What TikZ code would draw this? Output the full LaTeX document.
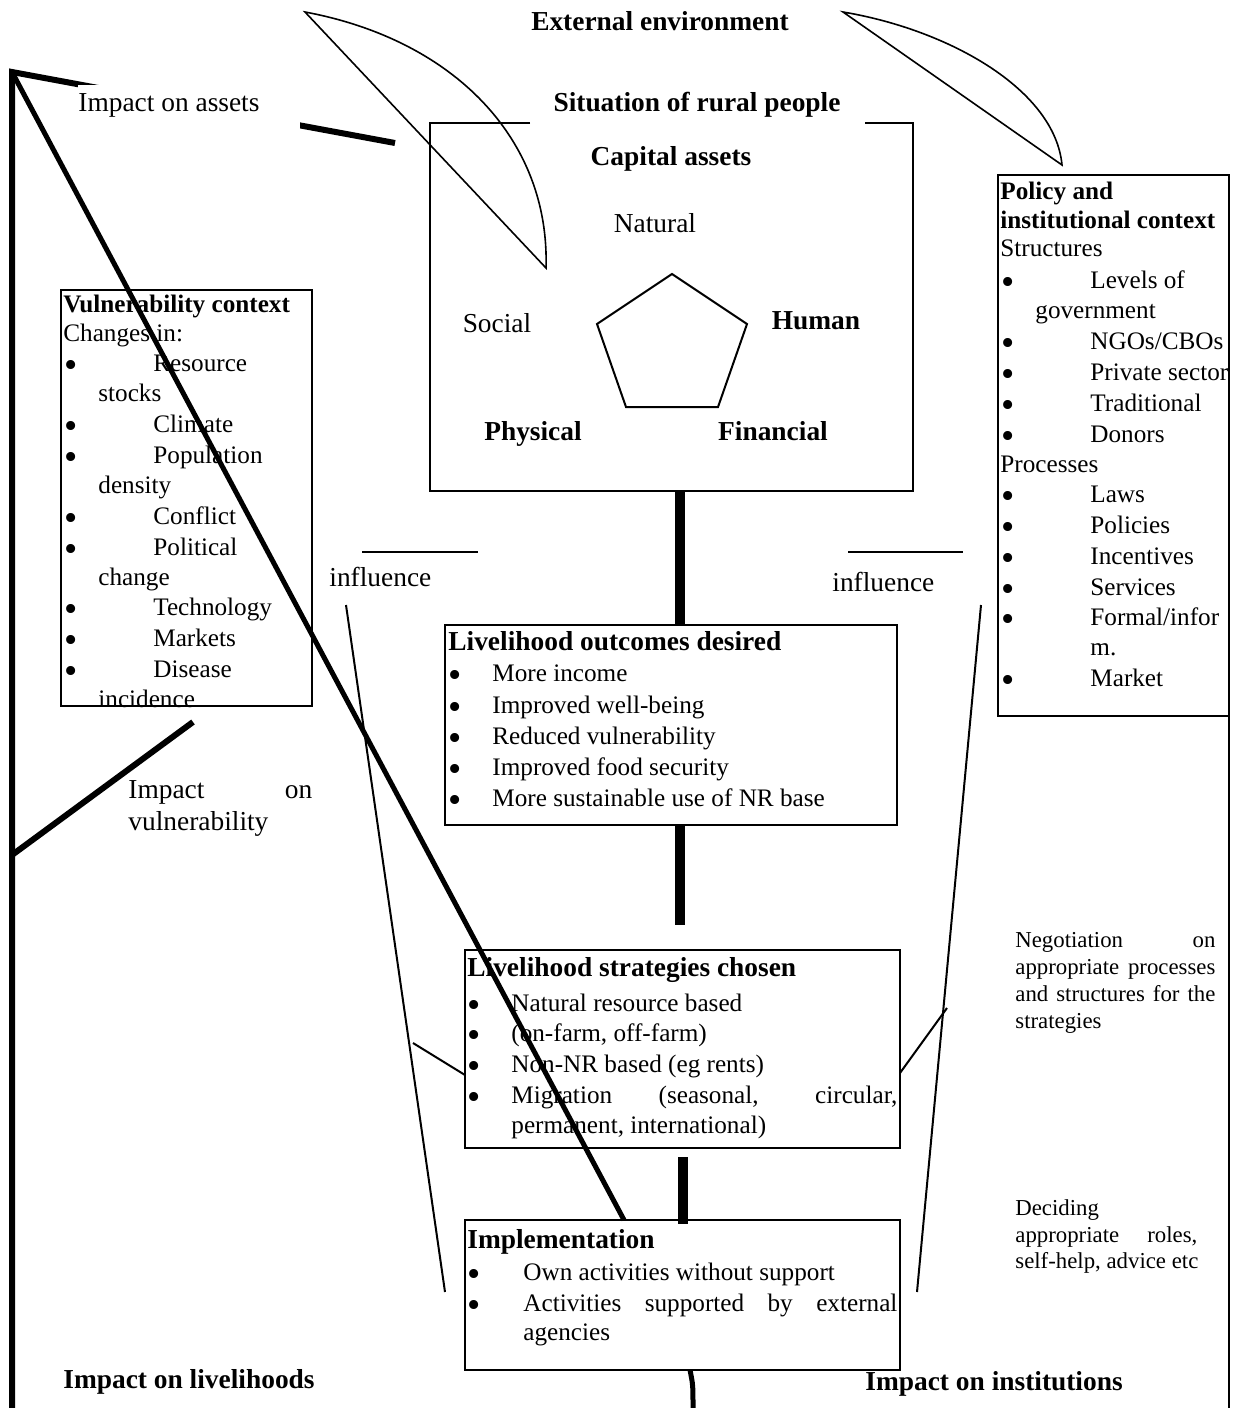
\documentclass[tikz,border=0pt]{standalone}
\usepackage{fontspec}
\setmainfont{Liberation Serif}
\newcommand\bul{\raisebox{-0.24em}{\scalebox{1.5}{\textbullet}}}
\begin{document}
\begin{tikzpicture}[x=0.5pt,y=-0.5pt,
  txt/.style={inner sep=0pt, anchor=base west, font=\fontsize{12.6}{15}\selectfont},
  btxt/.style={txt, font=\fontsize{12.6}{15}\selectfont\bfseries},
  ltxt/.style={txt, font=\fontsize{13.7}{16}\selectfont},
  lbtxt/.style={txt, font=\fontsize{13.7}{16}\selectfont\bfseries},
  ctxt/.style={ltxt, anchor=base},
  cbtxt/.style={lbtxt, anchor=base},
  stxt/.style={txt, font=\fontsize{11.4}{13.5}\selectfont},
  bultxt/.style={txt, text height=0pt, text depth=0pt},
  boxframe/.style={draw, line width=1pt, anchor=north west, inner sep=0pt, outer sep=0pt},
  thinline/.style={line width=1pt},
  cres/.style={line width=0.8pt},
  heavy/.style={line width=3pt},
  diag/.style={line width=2.5pt},
  conn/.style={line width=5pt},
]
\useasboundingbox (0,0) rectangle (1233,1408);
\fill[white] (0,0) rectangle (1233,1408);

% ---------- boxes ----------
\node[boxframe, minimum width=125.5pt, minimum height=208pt] (vul) at (61,290) {};
\node[boxframe, minimum width=115.5pt, minimum height=270.5pt] (pol) at (998,175) {};
\node[boxframe, minimum width=226pt, minimum height=100pt] (out) at (445,625) {};
\node[boxframe, minimum width=217.5pt, minimum height=99pt] (str) at (465,950) {};
\node[boxframe, minimum width=217.5pt, minimum height=75pt] (imp) at (465,1220) {};
\node[anchor=north west, inner sep=0pt, outer sep=0pt, minimum width=241.5pt, minimum height=184pt] (cap) at (430,123) {};
\coordinate (gapL) at (530,123);
\coordinate (gapR) at (865,123);
\draw[thinline] (gapL) -- (cap.north west) -- (cap.south west) -- (cap.south east) -- (cap.north east) -- (gapR);

% ---------- top texts ----------
\node[cbtxt] (extenv) at (660,30) {External environment};
\node[cbtxt] (situ) at (697,111) {Situation of rural people};

% ---------- capital assets ----------
\node[cbtxt] (capt) at (671,165) {Capital assets};
\node[ctxt] (nat) at (655,232) {Natural};
\node[ctxt] (soc) at (497,332) {Social};
\node[cbtxt] (hum) at (816,329) {Human};
\node[cbtxt] (phy) at (533,440) {Physical};
\node[cbtxt] (fin) at (773,440) {Financial};
\draw[thinline] (672,274) -- (747,324) -- (718,407) -- (626,407) -- (597,324) -- cycle;

% ---------- vulnerability ----------
\node[btxt] (vt) at (63,312) {Vulnerability context};
\node[txt] (vc) at (63,341) {Changes in:};
\foreach[count=\i] \yy in {371,432,463,524,555,615,646,677}
  \node[bultxt] (vb\i) at (64,\yy) {\bul};
\foreach[count=\i] \xx/\yy/\lbl in {153/371/Resource, 98/401/stocks, 153/432/Climate,
  153/463/Population, 98/493/density, 153/524/Conflict, 153/555/Political, 98/585/change,
  153/615/Technology, 153/646/Markets, 153/677/Disease, 98/707/incidence}
  \node[txt] (vl\i) at (\xx,\yy) {\lbl};

% ---------- policy ----------
\node[btxt] (pt1) at (1000,199) {Policy and};
\node[btxt] (pt2) at (1000,228) {institutional context};
\node[txt] (pst) at (1000,256) {Structures};
\node[txt] (ppr) at (1000,472) {Processes};
\foreach[count=\i] \yy in {288,349,380,411,442,502,533,564,595,625,686}
  \node[bultxt] (pb\i) at (1001,\yy) {\bul};
\foreach[count=\i] \xx/\yy/\lbl in {1090/288/{Levels of}, 1035/318/government, 1090/349/{NGOs/CBOs},
  1090/380/{Private sector}, 1090/411/Traditional, 1090/442/Donors, 1090/502/Laws,
  1090/533/Policies, 1090/564/Incentives, 1090/595/Services, 1090/625/{Formal/infor},
  1090/655/{m.}, 1090/686/Market}
  \node[txt] (pl\i) at (\xx,\yy) {\lbl};

% ---------- outcomes ----------
\node[lbtxt] (ot) at (448,650) {Livelihood outcomes desired};
\foreach[count=\i] \yy/\lbl in {681/More income, 713/Improved well-being, 744/Reduced vulnerability,
  775/Improved food security, 806/More sustainable use of NR base}
  {\node[bultxt] (ob\i) at (448,\yy) {\bul};
   \node[txt] (ol\i) at (492,\yy) {\lbl};}

% ---------- strategies ----------
\node[lbtxt] (st) at (467,976) {Livelihood strategies chosen};
\foreach[count=\i] \yy in {1011,1041,1072,1103}
  \node[bultxt] (sb\i) at (467,\yy) {\bul};
\node[txt] (sl1) at (511,1011) {Natural resource based};
\node[txt] (sl2) at (511,1041) {(on-farm, off-farm)};
\node[txt] (sl3) at (511,1072) {Non-NR based (eg rents)};
\node[txt] (sl4) at (511,1103) {\makebox[193pt][s]{Migration (seasonal, circular,}};
\node[txt] (sl5) at (511,1133) {permanent, international)};

% ---------- implementation ----------
\node[lbtxt] (it) at (467,1248) {Implementation};
\node[bultxt] (ib1) at (467,1280) {\bul};
\node[bultxt] (ib2) at (467,1311) {\bul};
\node[txt] (il1) at (523,1280) {Own activities without support};
\node[txt] (il2) at (523,1311) {\makebox[187pt][s]{Activities supported by external}};
\node[txt] (il3) at (523,1340) {agencies};

% ---------- side labels ----------
\node[ltxt] (infl) at (329,586) {influence};
\node[ltxt] (infr) at (832,591) {influence};
\node[ltxt] (iv1) at (128,798) {\makebox[92pt][s]{Impact on}};
\node[ltxt] (iv2) at (128,830) {vulnerability};
\node[stxt] (ng1) at (1015,947) {\makebox[100pt][s]{Negotiation on}};
\node[stxt] (ng2) at (1015,974) {\makebox[100pt][s]{appropriate processes}};
\node[stxt] (ng3) at (1015,1001) {\makebox[100pt][s]{and structures for the}};
\node[stxt] (ng4) at (1015,1028) {strategies};
\node[stxt] (dc1) at (1015,1215) {Deciding};
\node[stxt] (dc2) at (1015,1242) {\makebox[91pt][s]{appropriate roles,}};
\node[stxt] (dc3) at (1015,1268) {self-help, advice etc};
\node[lbtxt] (ilv) at (63,1388) {Impact on livelihoods};
\node[lbtxt] (iin) at (865,1390) {Impact on institutions};

% ---------- crescents ----------
\draw[cres] (305,12) .. controls (455,40) and (550,140) .. (546,268) -- cycle;
\draw[cres] (843,12) .. controls (950,30) and (1055,90) .. (1062,165) -- cycle;

% ---------- coordinates ----------
\coordinate (tl) at (12,72);
\coordinate (bl) at (12,1408);
\coordinate (assetEnd) at (395,143);
\coordinate (vulA) at (12,855);
\coordinate (vulB) at (193,722);
\coordinate (k1) at (680,0);
\coordinate (k2) at (683,0);
\coordinate (k3) at (690,0);
\coordinate (k4) at (624,0);
\coordinate (c2end) at (680,925);
\coordinate (c3start) at (683,1157);
\coordinate (bottomEnd) at (693,1408);
\coordinate (lfA) at (346,605);
\coordinate (lfB) at (445,1292);
\coordinate (lsA) at (413,1043);
\coordinate (lsB) at (465,1075);
\coordinate (rfA) at (981,605);
\coordinate (rfB) at (917,1292);
\coordinate (rsA) at (947,1008);
\coordinate (rsB) at (900,1073);
\coordinate (hlA) at (362,552);
\coordinate (hlB) at (478,552);
\coordinate (hrA) at (848,552);
\coordinate (hrB) at (963,552);
\coordinate (rvA) at (1229,675);
\coordinate (rvB) at (1229,1408);

% ---------- connectors ----------
\draw[conn] (cap.south -| k1) -- (out.north -| k1);
\draw[conn] (out.south -| k1) -- (c2end);
\draw[conn] (c3start) -- ([yshift=-2pt]imp.north -| k2);
\draw[line width=2.5pt] (imp.south -| k3) .. controls (693,1385) .. (bottomEnd);

\draw[thinline] (lfA) -- (lfB);
\draw[thinline] (lsA) -- (lsB);
\draw[thinline] (rfA) -- (rfB);
\draw[thinline] (rsA) -- (rsB);
\draw[thinline] (hlA) -- (hlB);
\draw[thinline] (hrA) -- (hrB);
\draw[thinline] (rvA) -- (rvB);

\draw[heavy] (bl) -- (tl) -- (assetEnd);
\draw[diag] (tl) -- (imp.north -| k4);
\draw[heavy] (vulA) -- (vulB);

\node[ltxt, fill=white, text height=13pt, text depth=9pt] (assets) at (78,111) {\makebox[111pt][l]{Impact on assets}};
\end{tikzpicture}
\end{document}
